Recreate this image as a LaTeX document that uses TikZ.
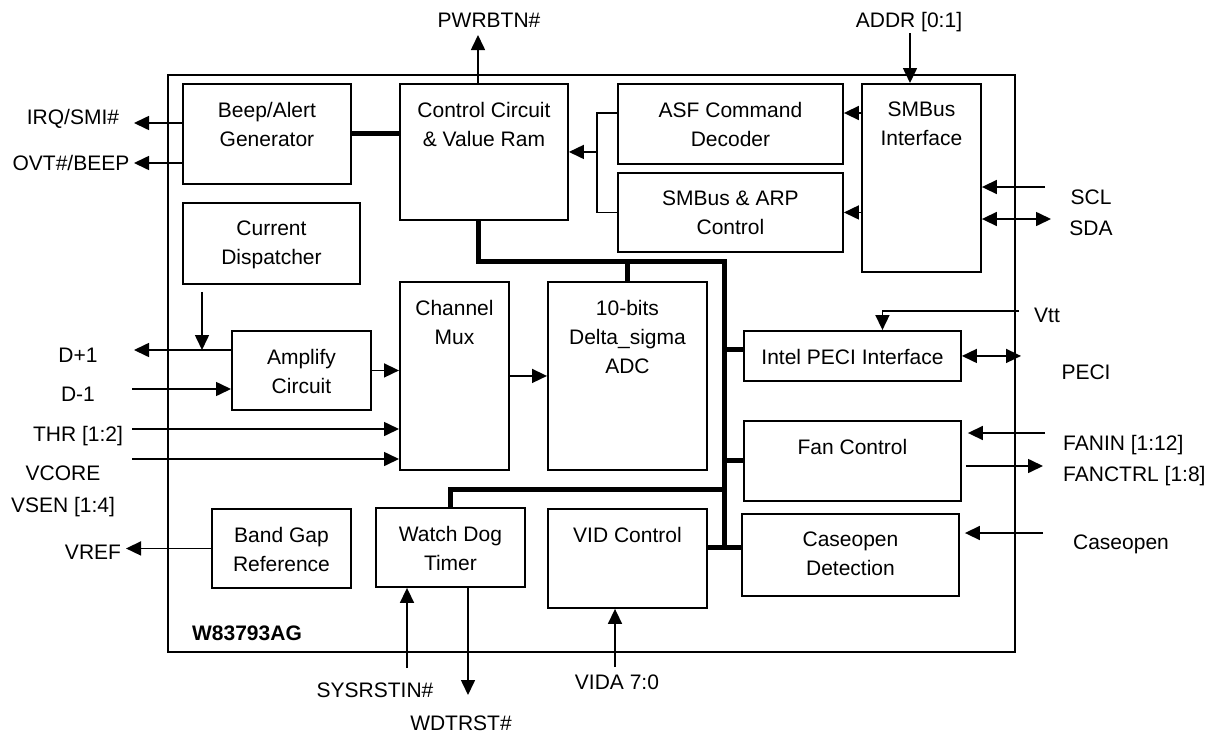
\documentclass[tikz,border=0pt]{standalone}
\usepackage{fontspec}
\setmainfont{Liberation Sans}
\usetikzlibrary{arrows.meta,positioning}
\tikzset{
  blk/.style={draw,line width=1.9pt,anchor=north west,inner sep=0pt,
    label={[anchor=north,align=center,inner sep=0pt,yshift=-19pt]90:#1}},
  sig/.style={line width=1.6pt,-{Triangle[length=15pt,width=14pt]}},
  both/.style={line width=1.6pt,{Triangle[length=15pt,width=14pt]}-{Triangle[length=15pt,width=14pt]}},
  bus/.style={line width=5pt},
  pin/.style={inner sep=0pt,text height=15pt,text depth=0pt}
}
\begin{document}
\begin{tikzpicture}[x=1pt,y=-1pt,font=\fontsize{21}{29}\selectfont]
\useasboundingbox (0,0) rectangle (1225,736);
\node[blk={},minimum width=847pt,minimum height=577pt] (chip) at (167,74) {};
\node[pin,font=\fontsize{21}{29}\selectfont\bfseries] (part) at (247,633) {W83793AG};
\node[blk={Beep/Alert\\Generator},minimum width=168pt,minimum height=100pt] (beep) at (182,83) {};
\node[blk={Control Circuit\\\& Value Ram},minimum width=168pt,minimum height=136pt] (ctrl) at (399,83) {};
\node[blk={ASF Command\\Decoder},minimum width=225pt,minimum height=80pt] (asf) at (617,83) {};
\node[blk={SMBus \& ARP\\Control},minimum width=225pt,minimum height=79pt] (arp) at (617,172) {};
\node[blk={SMBus\\Interface},minimum width=119pt,minimum height=188pt] (smb) at (861,83) {};
\node[blk={Current\\Dispatcher},minimum width=177pt,minimum height=81pt] (disp) at (182,202) {};
\node[blk={Amplify\\Circuit},minimum width=139pt,minimum height=79pt] (amp) at (231,330) {};
\node[blk={Channel\\Mux},minimum width=109pt,minimum height=188pt] (mux) at (399,281) {};
\node[blk={10-bits\\Delta\_sigma\\ADC},minimum width=159pt,minimum height=188pt] (adc) at (547,281) {};
\node[blk={Intel PECI Interface},minimum width=217pt,minimum height=50pt] (peci) at (743,330) {};
\node[blk={Fan Control},minimum width=217pt,minimum height=80pt] (fan) at (743,420) {};
\node[blk={Band Gap\\Reference},minimum width=139pt,minimum height=79pt] (bgap) at (211,508) {};
\node[blk={Watch Dog\\Timer},minimum width=149pt,minimum height=79pt] (wdt) at (375,507) {};
\node[blk={VID Control},minimum width=159pt,minimum height=99pt] (vid) at (547,508) {};
\node[blk={Caseopen\\Detection},minimum width=217pt,minimum height=82pt] (case) at (741,513) {};

\coordinate (pwr) at (478,35);
\coordinate (addr) at (910,33);
\coordinate (irq) at (134,123);
\coordinate (ovt) at (134,163);
\coordinate (scl) at (1045,187);
\coordinate (sda) at (1051,219);
\coordinate (brk) at (597,113);
\coordinate (dp) at (202,350);
\coordinate (dplus) at (134,350);
\coordinate (dmin) at (132,389);
\coordinate (thr) at (132,429);
\coordinate (vcore) at (132,459);
\coordinate (vref) at (126,547);
\coordinate (vtt) at (1019,311);
\coordinate (pecio) at (1021,358);
\coordinate (fanin) at (1045,433);
\coordinate (fanout) at (1043,466);
\coordinate (csin) at (1043,533);
\coordinate (sys) at (407,668);
\coordinate (wdr) at (468,695);
\coordinate (vida) at (615,667);
\coordinate (bus) at (724,261);
\coordinate (wdbus) at (724,489);
\coordinate (busend) at (724,547);
\coordinate (pecibus) at ([yshift=6pt]peci.west);

\node[pin] (l-pwr) at (489,20) {PWRBTN\#};
\node[pin] (l-addr) at (909,20) {ADDR [0:1]};
\node[pin] (l-irq) at (73,117) {IRQ/SMI\#};
\node[pin] (l-ovt) at (71,163) {OVT\#/BEEP};
\node[pin] (l-scl) at (1091,197) {SCL};
\node[pin] (l-sda) at (1091,228) {SDA};
\node[pin] (l-dp) at (78,355) {D+1};
\node[pin] (l-dm) at (78,394) {D-1};
\node[pin] (l-thr) at (78,434) {THR [1:2]};
\node[pin] (l-vcore) at (63,473) {VCORE};
\node[pin] (l-vsen) at (63,505) {VSEN [1:4]};
\node[pin] (l-vref) at (93,552) {VREF};
\node[pin] (l-vtt) at (1047,315) {Vtt};
\node[pin] (l-peci) at (1086,372) {PECI};
\node[pin,anchor=west] (l-fanin) at (1063,443) {FANIN [1:12]};
\node[pin,anchor=west] (l-fanctrl) at (1063,474) {FANCTRL [1:8]};
\node[pin] (l-case) at (1121,542) {Caseopen};
\node[pin] (l-sys) at (375,690) {SYSRSTIN\#};
\node[pin] (l-wdr) at (461,723) {WDTRST\#};
\node[pin] (l-vida) at (617,682) {VIDA 7:0};

\draw[sig] (pwr |- ctrl.north) -- (pwr);
\draw[sig] (addr) -- (addr |- smb.north);
\draw[sig] (beep.west |- irq) -- (irq);
\draw[sig] (beep.west |- ovt) -- (ovt);
\draw[bus] (beep.east) -- (beep.east -| ctrl.west);
\draw[sig] (smb.west |- brk) -- (brk -| asf.east);
\draw[sig] (smb.west |- arp.east) -- (arp.east);
\draw[line width=1.6pt] (brk -| asf.west) -| (brk |- arp.west) -- (arp.west);
\draw[sig] (brk |- ctrl.east) -- (ctrl.east);
\draw[sig] (scl) -- (scl -| smb.east);
\draw[both] (smb.east |- sda) -- (sda);

\draw[bus] ([xshift=-5pt]ctrl.south) |- (bus) -- (busend);
\draw[bus] (adc.north) -- (adc.north |- bus);
\draw[bus] (pecibus) -- (pecibus -| bus);
\draw[bus] (fan.west) -- (fan.west -| bus);
\draw[bus] (wdt.north) |- (wdbus);
\draw[bus] (vid.east |- busend) -- (case.west |- busend);

\draw[sig,shorten <=7pt] (disp.south -| dp) -- (dp);
\draw[sig] (amp.west |- dplus) -- (dplus);
\draw[sig] (dmin) -- (dmin -| amp.west);
\draw[sig] (amp.east) -- (amp.east -| mux.west);
\draw[sig] (thr) -- (thr -| mux.west);
\draw[sig] (vcore) -- (vcore -| mux.west);
\draw[sig] (mux.east) -- (mux.east -| adc.west);
\draw[sig] (bgap.west) -- (bgap.west -| vref);
\draw[sig] (vtt) -| ([xshift=30pt]peci.north);
\draw[both] (peci.east) -- (peci.east -| pecio);
\draw[sig,shorten >=6pt] (fanin) -- (fanin -| fan.east);
\draw[sig,shorten <=4pt] (fan.east |- fanout) -- (fanout);
\draw[sig,shorten >=5pt] (csin) -- (csin -| case.east);
\draw[sig] (sys) -- (sys |- wdt.south);
\draw[sig] (wdr |- wdt.south) -- (wdr);
\draw[sig] (vida) -- (vida |- vid.south);
\end{tikzpicture}
\end{document}
